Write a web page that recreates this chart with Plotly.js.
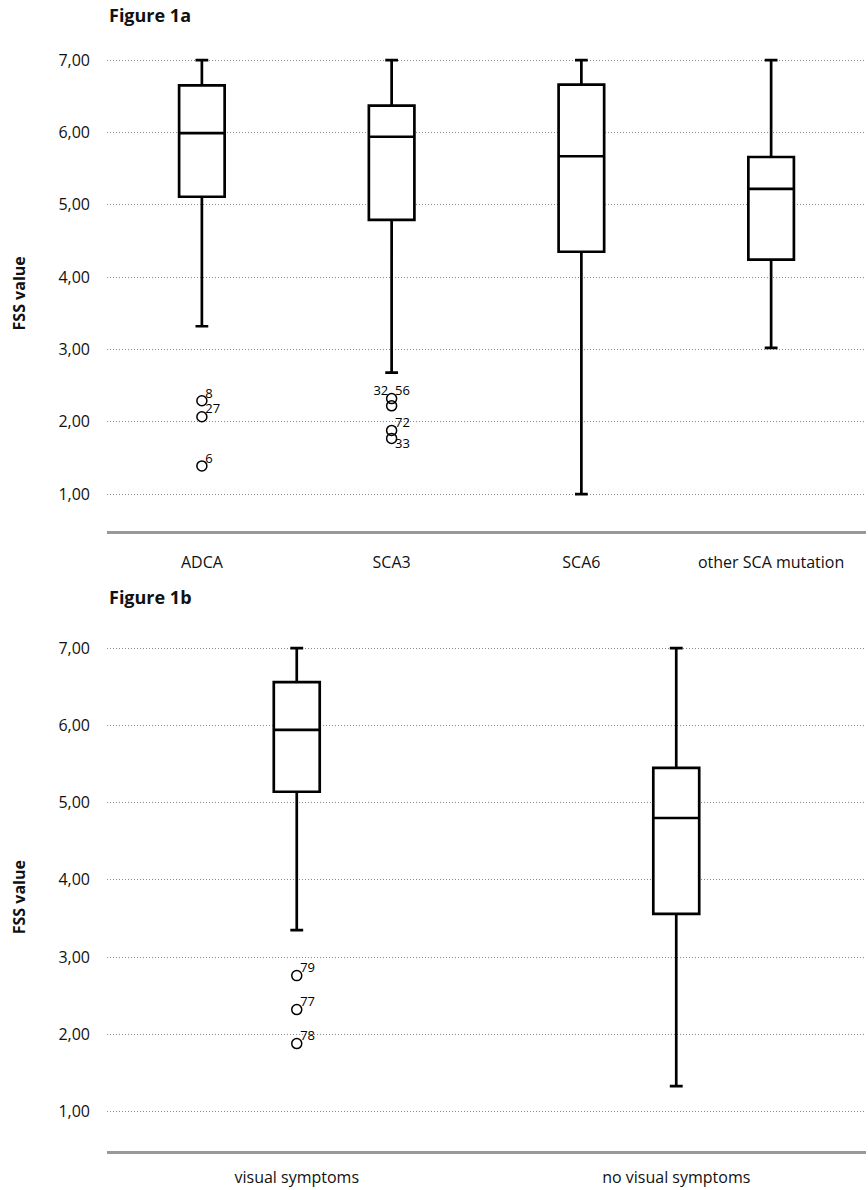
<!DOCTYPE html>
<html>
<head>
<meta charset="utf-8">
<script src="https://cdn.plot.ly/plotly-3.0.1.min.js"></script>
<style>html,body{margin:0;padding:0;background:#fff;}#chart{width:868px;height:1190px;}</style>
</head>
<body>
<div id="chart"></div>
<script>
// ---------- Data: Figure 1a ----------
const catsA = ['ADCA', 'SCA3', 'SCA6', 'other SCA mutation'];
const lowerA = [3.32, 2.68, 1.00, 3.02];
const q1A = [5.11, 4.79, 4.35, 4.24];
const medianA = [5.99, 5.94, 5.67, 5.22];
const q3A = [6.65, 6.37, 6.66, 5.66];
const upperA = [7.00, 7.00, 7.00, 7.00];
const outCatA = ['ADCA', 'ADCA', 'ADCA', 'SCA3', 'SCA3', 'SCA3', 'SCA3'];
const outValA = [2.29, 2.07, 1.39, 2.32, 2.22, 1.88, 1.77];
const labCatA = ['ADCA', 'ADCA', 'ADCA', 'SCA3', 'SCA3', 'SCA3', 'SCA3'];
const labValA = [2.29, 2.07, 1.39, 2.32, 2.32, 1.88, 1.77];
const labTextA = ['8', '27', '6', '32', '56', '72', '33'];

// ---------- Data: Figure 1b ----------
const catsB = ['visual symptoms', 'no visual symptoms'];
const lowerB = [3.35, 1.33];
const q1B = [5.14, 3.56];
const medianB = [5.94, 4.80];
const q3B = [6.56, 5.45];
const upperB = [7.00, 7.00];
const outCatB = ['visual symptoms', 'visual symptoms', 'visual symptoms'];
const outValB = [2.76, 2.32, 1.88];
const labTextB = ['79', '77', '78'];

const yTicks = [1, 2, 3, 4, 5, 6, 7];

// ---------- Styling / layout ----------
const FONT = '"Open Sans", "Noto Sans", sans-serif';
const H = 1190;
const labPosA = ['top right', 'top right', 'top right', 'top left', 'top right', 'top right', 'bottom right'];

// pad label text away from the marker according to its side
function padLabels(texts, pos) {
  return texts.map((t, i) => {
    const p = Array.isArray(pos) ? pos[i] : pos;
    return p.indexOf('left') >= 0 ? t + '\u00a0' : '\u00a0' + t;
  });
}

function boxTrace(cats, lo, q1, med, q3, up, xa, ya, w) {
  return {
    type: 'box', x: cats, lowerfence: lo, q1: q1, median: med, q3: q3, upperfence: up,
    xaxis: xa, yaxis: ya, width: w, whiskerwidth: 0.28,
    fillcolor: '#ffffff', line: {color: '#000000', width: 2.7},
    boxpoints: false, hoverinfo: 'skip', showlegend: false
  };
}
function outlierTrace(cats, vals, xa, ya) {
  return {
    type: 'scatter', mode: 'markers', x: cats, y: vals, xaxis: xa, yaxis: ya,
    marker: {symbol: 'circle-open', size: 10, color: '#000', line: {width: 1.5, color: '#000'}},
    cliponaxis: false, showlegend: false, hoverinfo: 'skip'
  };
}
function labelTrace(cats, vals, text, pos, xa, ya) {
  return {
    type: 'scatter', mode: 'text', x: cats, y: vals, text: padLabels(text, pos), textposition: pos,
    textfont: {family: FONT, size: 13, color: '#000'}, xaxis: xa, yaxis: ya,
    cliponaxis: false, showlegend: false, hoverinfo: 'skip'
  };
}

const data = [
  boxTrace(catsA, lowerA, q1A, medianA, q3A, upperA, 'x', 'y', 0.24),
  outlierTrace(outCatA, outValA, 'x', 'y'),
  labelTrace(labCatA, labValA, labTextA, labPosA, 'x', 'y'),
  boxTrace(catsB, lowerB, q1B, medianB, q3B, upperB, 'x2', 'y2', 0.121),
  outlierTrace(outCatB, outValB, 'x2', 'y2'),
  labelTrace(outCatB, outValB, labTextB, 'top right', 'x2', 'y2')
];

function dom(topPx, botPx) { return [1 - botPx / H, 1 - topPx / H]; }

function yAxis(domain, anchor) {
  return {
    domain: domain, anchor: anchor, range: [0.49, 7.06], tickvals: yTicks, tickformat: '.2f',
    showgrid: true, gridcolor: '#8a8a8a', gridwidth: 1, griddash: '1px,2px', zeroline: false,
    showline: false, ticks: '', ticklabelstandoff: 16, automargin: false, fixedrange: true,
    tickfont: {family: FONT, size: 16, color: '#111'},
    title: {text: '<b>FSS value</b>', font: {family: FONT, size: 16, color: '#111'}, standoff: 28}
  };
}
function xAxis(cats, anchor, standoff) {
  return {
    anchor: anchor, type: 'category', categoryorder: 'array', categoryarray: cats,
    range: [-0.5, cats.length - 0.5], showline: true, linecolor: '#999999', linewidth: 3,
    ticks: '', showgrid: false, zeroline: false, ticklabelstandoff: standoff, automargin: false,
    tickfont: {family: FONT, size: 16, color: '#111'}, fixedrange: true
  };
}

const layout = {
  width: 868, height: H, margin: {l: 107, r: 2, t: 0, b: 0},
  paper_bgcolor: '#fff', plot_bgcolor: '#fff', separators: ',.',
  font: {family: FONT, color: '#111'},
  xaxis: xAxis(catsA, 'y', 15),
  yaxis: yAxis(dom(55.7, 531), 'x'),
  xaxis2: xAxis(catsB, 'y2', 10),
  yaxis2: yAxis(dom(643.4, 1151), 'x2'),
  annotations: [
    {text: '<b>Figure 1a</b>', xref: 'paper', yref: 'paper', x: 0, y: 1 - 15 / H, xanchor: 'left', yanchor: 'middle',
     showarrow: false, font: {family: FONT, size: 18, color: '#111'}},
    {text: '<b>Figure 1b</b>', xref: 'paper', yref: 'paper', x: 0, y: 1 - 597 / H, xanchor: 'left', yanchor: 'middle',
     showarrow: false, font: {family: FONT, size: 18, color: '#111'}}
  ]
};

Plotly.newPlot('chart', data, layout, {staticPlot: true, displayModeBar: false});
</script>
</body>
</html>
